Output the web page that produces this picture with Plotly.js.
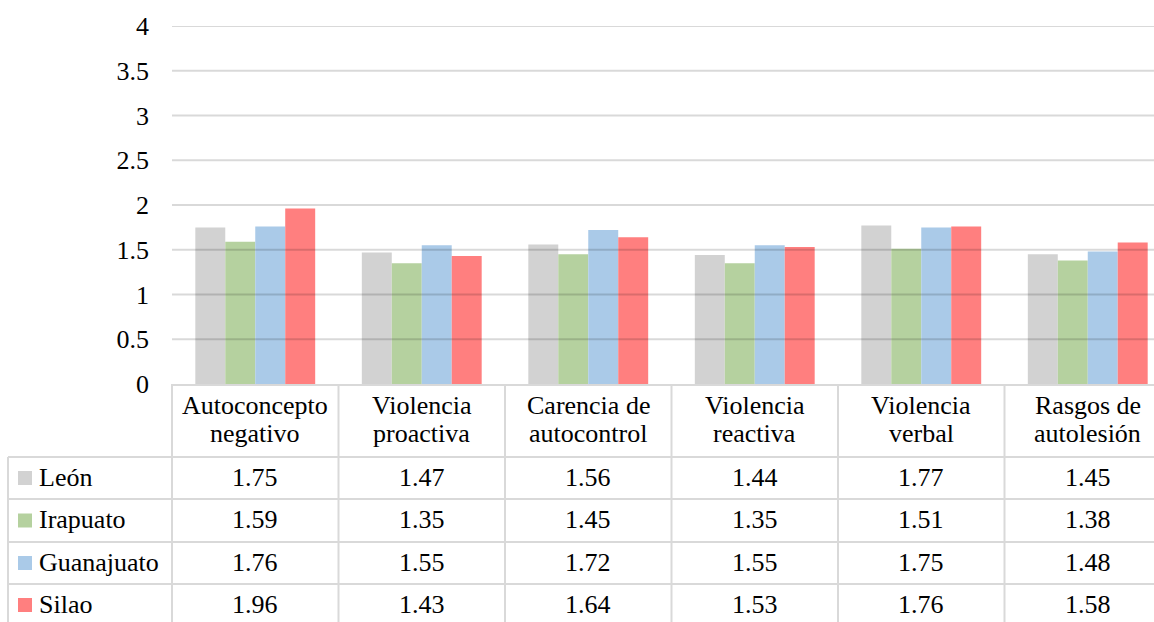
<!DOCTYPE html>
<html>
<head>
<meta charset="utf-8">
<script src="https://cdn.plot.ly/plotly-3.0.1.min.js"></script>
<style>
html,body{margin:0;padding:0;background:#fff;font-family:'Liberation Serif';}
#chart{width:1154px;height:622px;}
svg text{font-family:'Liberation Serif' !important;}
</style>
</head>
<body>
<div id="chart"></div>
<script>
// ---- data ----
var categoryLines = [
  ["Autoconcepto", "negativo"],
  ["Violencia", "proactiva"],
  ["Carencia de", "autocontrol"],
  ["Violencia", "reactiva"],
  ["Violencia", "verbal"],
  ["Rasgos de", "autolesión"]
];
var categories = categoryLines.map(function (l) { return l.join(" "); });
var seriesNames = ["León", "Irapuato", "Guanajuato", "Silao"];
var leon       = [1.75, 1.47, 1.56, 1.44, 1.77, 1.45];
var irapuato   = [1.59, 1.35, 1.45, 1.35, 1.51, 1.38];
var guanajuato = [1.76, 1.55, 1.72, 1.55, 1.75, 1.48];
var silao      = [1.96, 1.43, 1.64, 1.53, 1.76, 1.58];
var yTickVals  = [0, 0.5, 1, 1.5, 2, 2.5, 3, 3.5, 4];
var yTickText  = ["0", "0.5", "1", "1.5", "2", "2.5", "3", "3.5", "4"];

// ---- style ----
var seriesData = [leon, irapuato, guanajuato, silao];
var colors = ["#d2d2d2", "#b5d19f", "#aacae8", "#ff7f7f"];
var FONT = "Liberation Serif";
var FS = 26;
var W = 1154, H = 622, ML = 172, MT = 26, MB = 238, MR = 0;
var PW = W - ML - MR, PH = H - MT - MB;
function px(x) { return (x - ML) / PW; }
function py(y) { return (H - MB - y) / PH; }
var lineCol = "#d9d9d9";

var traces = seriesNames.map(function (name, i) {
  return {
    type: "bar", name: name, x: categories, y: seriesData[i],
    marker: { color: colors[i], line: { width: 0 } },
    hoverinfo: "skip"
  };
});

var shapes = [];
var annotations = [];

yTickVals.forEach(function (v) {
  if (v === 0) return;
  shapes.push({ type: "line", xref: "paper", yref: "y", x0: 0, x1: 1, y0: v, y1: v,
    line: { color: "rgba(0,0,0,0.15)", width: 2 }, layer: "above" });
});

var headerBottom = 457;
var rowLines = [457, 499, 542, 584, 626];
var tableBottom = 640;

rowLines.forEach(function (y) {
  shapes.push({ type: "line", xref: "paper", yref: "paper", x0: px(8), x1: 1, y0: py(y), y1: py(y),
    line: { color: lineCol, width: 2 } });
});
shapes.push({ type: "line", xref: "paper", yref: "paper", x0: px(8), x1: px(8), y0: py(headerBottom), y1: py(tableBottom),
  line: { color: lineCol, width: 2 } });
shapes.push({ type: "line", xref: "paper", yref: "paper", x0: 0, x1: 0, y0: 0, y1: py(tableBottom),
  line: { color: lineCol, width: 2 } });
for (var k = 1; k < categories.length; k++) {
  shapes.push({ type: "line", xref: "x", yref: "paper", x0: k - 0.5, x1: k - 0.5, y0: 0, y1: py(tableBottom),
    line: { color: lineCol, width: 2 } });
}

var tfont = { family: FONT, size: FS, color: "#000" };

categoryLines.forEach(function (lines, i) {
  annotations.push({ xref: "x", yref: "paper", x: categories[i], y: py(405), text: lines[0],
    showarrow: false, xanchor: "center", yanchor: "middle", font: tfont });
  annotations.push({ xref: "x", yref: "paper", x: categories[i], y: py(434), text: lines[1],
    showarrow: false, xanchor: "center", yanchor: "middle", font: tfont });
});

seriesNames.forEach(function (name, r) {
  var yc = (rowLines[r] + rowLines[r + 1]) / 2;
  shapes.push({ type: "rect", xref: "paper", yref: "paper", x0: px(18), x1: px(32),
    y0: py(yc - 7), y1: py(yc + 7), fillcolor: colors[r], line: { width: 0 } });
  annotations.push({ xref: "paper", yref: "paper", x: px(37), y: py(yc - 1), text: name,
    showarrow: false, xanchor: "left", yanchor: "middle", font: tfont });
  seriesData[r].forEach(function (v, i) {
    annotations.push({ xref: "x", yref: "paper", x: categories[i], y: py(yc - 1), text: v.toFixed(2),
      showarrow: false, xanchor: "center", yanchor: "middle", font: tfont });
  });
});

var layout = {
  width: W, height: H,
  margin: { l: ML, r: MR, t: MT, b: MB, pad: 0 },
  paper_bgcolor: "#fff", plot_bgcolor: "#fff",
  showlegend: false,
  barmode: "group", bargap: 0.28, bargroupgap: 0,
  font: { family: FONT, size: FS, color: "#000" },
  xaxis: {
    type: "category", range: [-0.5, -0.5 + PW / 166.5], showticklabels: false,
    showgrid: false, zeroline: false, showline: true, linecolor: lineCol, linewidth: 2,
    ticks: "", fixedrange: true
  },
  yaxis: {
    range: [0, 4], tickvals: yTickVals, ticktext: yTickText, showgrid: false, zeroline: false,
    showline: false, ticks: "", ticklabelstandoff: 22,
    tickfont: { family: FONT, size: FS, color: "#000" }, fixedrange: true
  },
  shapes: shapes,
  annotations: annotations
};

Plotly.newPlot("chart", traces, layout, { displayModeBar: false });
if (document.fonts && document.fonts.ready) {
  document.fonts.ready.then(function () { Plotly.redraw("chart"); });
}
</script>
</body>
</html>
